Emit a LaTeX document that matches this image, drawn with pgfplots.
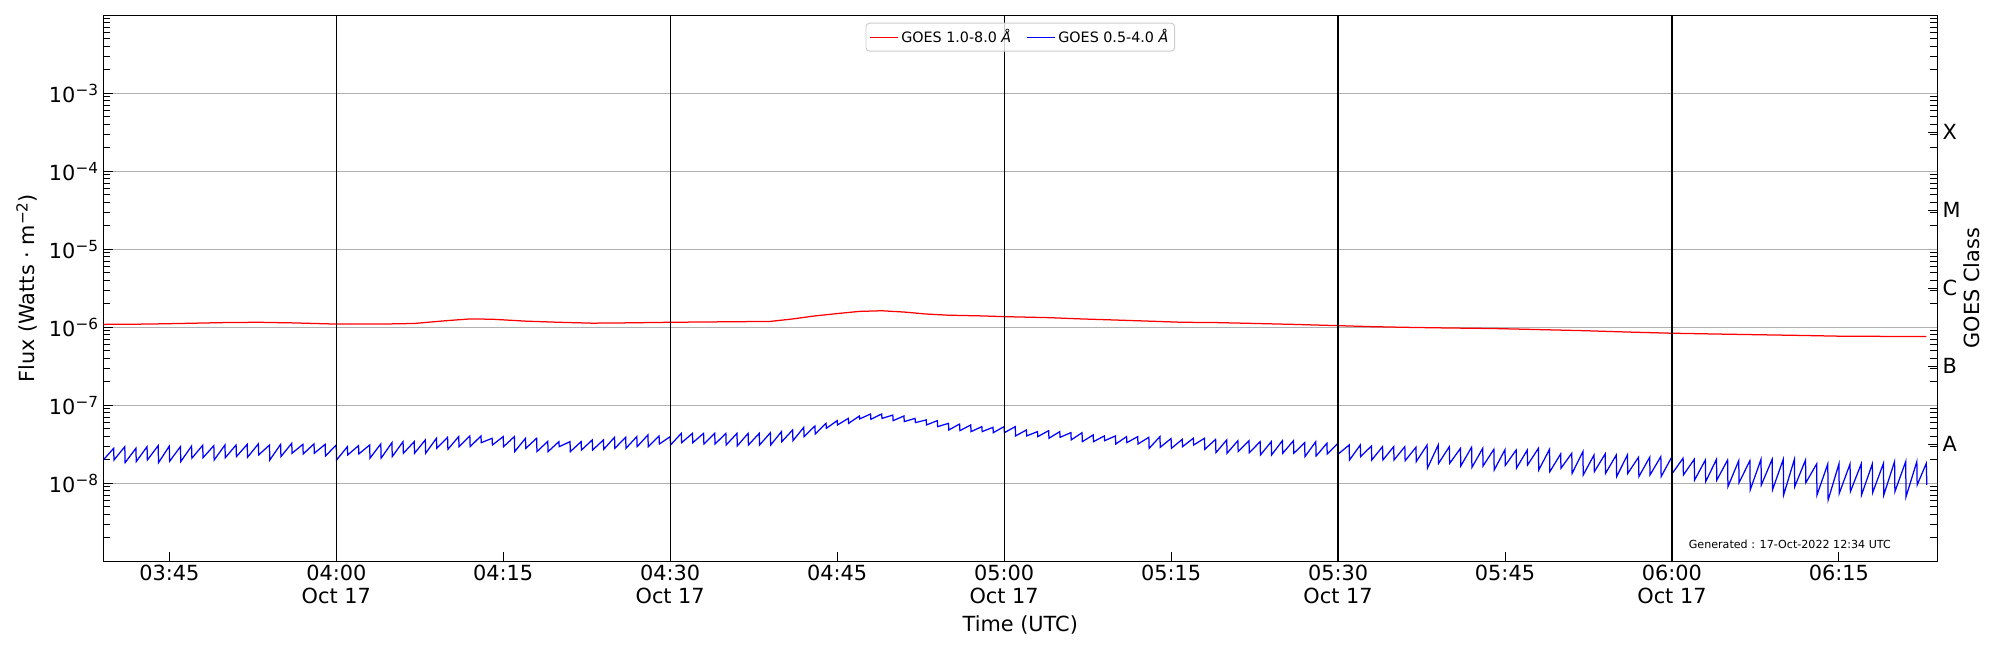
\documentclass[border=0pt]{standalone}
\usepackage{fontspec}
\setmainfont{DejaVu Sans}
\usepackage{pgfplots}
\usepackage{pgfplotstable}
\pgfplotsset{compat=1.18}
\definecolor{gridgray}{HTML}{B0B0B0}
\definecolor{legframe}{HTML}{CCCCCC}
\newcommand{\tp}[1]{10\raisebox{4.8pt}{\fontsize{11}{11}\selectfont −#1}}
\pgfplotsset{myminor/.style={minor ytick={2e-9,3e-9,4e-9,5e-9,6e-9,7e-9,8e-9,9e-9,2e-8,3e-8,4e-8,5e-8,6e-8,7e-8,8e-8,9e-8,2e-7,3e-7,4e-7,5e-7,6e-7,7e-7,8e-7,9e-7,2e-6,3e-6,4e-6,5e-6,6e-6,7e-6,8e-6,9e-6,2e-5,3e-5,4e-5,5e-5,6e-5,7e-5,8e-5,9e-5,2e-4,3e-4,4e-4,5e-4,6e-4,7e-4,8e-4,9e-4,2e-3,3e-3,4e-3,5e-3,6e-3,7e-3,8e-3,9e-3}}}
\pgfplotstableread{
t f
-20.93 1.09e-6
-17 1.10e-6
-14 1.12e-6
-10 1.15e-6
-7 1.16e-6
-4 1.14e-6
0 1.10e-6
4 1.10e-6
7 1.12e-6
10 1.22e-6
12 1.28e-6
14 1.27e-6
17 1.20e-6
20 1.16e-6
23 1.13e-6
26 1.14e-6
30 1.16e-6
33 1.17e-6
36 1.18e-6
39 1.19e-6
41 1.28e-6
43 1.40e-6
45 1.50e-6
47 1.60e-6
49 1.63e-6
51 1.57e-6
53 1.48e-6
55 1.43e-6
58 1.40e-6
60 1.37e-6
64 1.33e-6
67 1.28e-6
70 1.24e-6
73 1.20e-6
76 1.16e-6
79 1.15e-6
82 1.125e-6
86 1.09e-6
90 1.05e-6
93 1.02e-6
96 1.00e-6
100 0.98e-6
104 0.965e-6
108 0.935e-6
112 0.906e-6
116 0.87e-6
120 0.84e-6
124 0.82e-6
128.5 0.80e-6
132 0.785e-6
135 0.77e-6
139 0.765e-6
142.85 0.76e-6
}\longtab
\pgfplotstableread{
t f
-20.93 1.99e-8
-20 2.81e-8
-19.97 1.99e-8
-19 2.95e-8
-18.97 1.84e-8
-18 2.81e-8
-17.97 1.90e-8
-17 2.95e-8
-16.97 1.99e-8
-16 3.04e-8
-15.97 1.84e-8
-15 3.00e-8
-14.97 1.92e-8
-14 2.95e-8
-13.97 1.90e-8
-13 3.00e-8
-12.97 2.10e-8
-12 3.07e-8
-11.97 2.13e-8
-11 3.04e-8
-10.97 1.99e-8
-10 3.10e-8
-9.97 2.13e-8
-9 3.10e-8
-8.97 2.20e-8
-8 3.16e-8
-7.97 2.16e-8
-7 3.20e-8
-6.97 2.31e-8
-6 3.10e-8
-5.97 1.99e-8
-5 3.16e-8
-4.97 2.20e-8
-4 3.26e-8
-3.97 2.43e-8
-3 3.16e-8
-2.97 2.38e-8
-2 3.20e-8
-1.97 2.43e-8
-1 3.16e-8
-0.97 2.24e-8
0 3.10e-8
0.03 1.99e-8
1 2.95e-8
1.03 2.31e-8
2 3.04e-8
2.03 2.38e-8
3 3.10e-8
3.03 2.10e-8
4 3.20e-8
4.03 2.10e-8
5 3.32e-8
5.03 2.20e-8
6 3.42e-8
6.03 2.43e-8
7 3.42e-8
7.03 2.43e-8
8 3.60e-8
8.03 2.43e-8
9 3.78e-8
9.03 2.81e-8
10 3.89e-8
10.03 2.73e-8
11 3.97e-8
11.03 2.95e-8
12 4.05e-8
12.03 2.95e-8
13 4.05e-8
13.03 3.32e-8
14 3.78e-8
14.03 3.10e-8
15 3.97e-8
15.03 2.95e-8
16 3.97e-8
16.03 2.55e-8
17 3.78e-8
17.03 2.81e-8
18 3.78e-8
18.03 2.55e-8
19 3.45e-8
19.03 2.55e-8
20 3.42e-8
20.03 2.95e-8
21 3.42e-8
21.03 2.55e-8
22 3.42e-8
22.03 2.67e-8
23 3.60e-8
23.03 2.67e-8
24 3.60e-8
24.03 2.73e-8
25 3.89e-8
25.03 2.81e-8
26 3.89e-8
26.03 2.81e-8
27 3.97e-8
27.03 2.95e-8
28 4.17e-8
28.03 2.95e-8
29 4.05e-8
29.03 3.19e-8
30 3.97e-8
30.03 3.10e-8
31 4.37e-8
31.03 3.32e-8
32 4.37e-8
32.03 3.32e-8
33 4.37e-8
33.03 3.19e-8
34 4.37e-8
34.03 3.19e-8
35 4.37e-8
35.03 3.10e-8
36 4.37e-8
36.03 3.02e-8
37 4.37e-8
37.03 3.10e-8
38 4.37e-8
38.03 3.10e-8
39 4.45e-8
39.03 3.10e-8
40 4.60e-8
40.03 3.42e-8
41 4.83e-8
41.03 3.52e-8
42 5.22e-8
42.03 3.97e-8
43 5.43e-8
43.03 4.29e-8
44 5.87e-8
44.03 5.07e-8
45 6.36e-8
45.03 5.60e-8
46 6.80e-8
46.03 5.87e-8
47 7.30e-8
47.03 6.70e-8
48 7.74e-8
48.03 6.62e-8
49 7.74e-8
49.03 6.80e-8
50 7.50e-8
50.03 6.36e-8
51 7.30e-8
51.03 6.18e-8
52 6.80e-8
52.03 6.00e-8
53 6.50e-8
53.03 5.60e-8
54 6.36e-8
54.03 5.33e-8
55 5.87e-8
55.03 4.83e-8
56 5.75e-8
56.03 4.73e-8
57 5.60e-8
57.03 4.60e-8
58 5.33e-8
58.03 4.60e-8
59 5.22e-8
59.03 4.46e-8
60 5.33e-8
60.03 4.46e-8
61 5.33e-8
61.03 4.05e-8
62 4.83e-8
62.03 4.05e-8
63 4.60e-8
63.03 3.97e-8
64 4.73e-8
64.03 3.78e-8
65 4.60e-8
65.03 3.89e-8
66 4.46e-8
66.03 3.60e-8
67 4.46e-8
67.03 3.42e-8
68 4.17e-8
68.03 3.42e-8
69 4.05e-8
69.03 3.52e-8
70 4.05e-8
70.03 3.19e-8
71 3.97e-8
71.03 3.32e-8
72 3.97e-8
72.03 3.19e-8
73 3.89e-8
73.03 2.81e-8
74 3.97e-8
74.03 2.90e-8
75 3.75e-8
75.03 2.81e-8
76 3.66e-8
76.03 2.95e-8
77 3.78e-8
77.03 3.10e-8
78 3.78e-8
78.03 2.73e-8
79 3.66e-8
79.03 2.47e-8
80 3.60e-8
80.03 2.43e-8
81 3.52e-8
81.03 2.55e-8
82 3.52e-8
82.03 2.47e-8
83 3.42e-8
83.03 2.31e-8
84 3.42e-8
84.03 2.31e-8
85 3.52e-8
85.03 2.43e-8
86 3.52e-8
86.03 2.43e-8
87 3.32e-8
87.03 2.20e-8
88 3.42e-8
88.03 2.24e-8
89 3.26e-8
89.03 2.38e-8
90 3.26e-8
90.03 2.38e-8
91 3.10e-8
91.03 1.99e-8
92 3.10e-8
92.03 2.20e-8
93 3.01e-8
93.03 1.99e-8
94 2.95e-8
94.03 1.99e-8
95 2.95e-8
95.03 1.99e-8
96 2.95e-8
96.03 1.95e-8
97 2.90e-8
97.03 1.90e-8
98 3.10e-8
98.03 1.56e-8
99 3.10e-8
99.03 1.80e-8
100 2.95e-8
100.03 1.80e-8
101 2.81e-8
101.03 1.67e-8
102 2.90e-8
102.03 1.60e-8
103 2.81e-8
103.03 1.67e-8
104 2.73e-8
104.03 1.48e-8
105 2.70e-8
105.03 1.70e-8
106 2.67e-8
106.03 1.56e-8
107 2.67e-8
107.03 1.72e-8
108 2.81e-8
108.03 1.48e-8
109 2.73e-8
109.03 1.41e-8
110 2.38e-8
110.03 1.56e-8
111 2.43e-8
111.03 1.34e-8
112 2.55e-8
112.03 1.28e-8
113 2.31e-8
113.03 1.41e-8
114 2.38e-8
114.03 1.34e-8
115 2.31e-8
115.03 1.22e-8
116 2.31e-8
116.03 1.34e-8
117 2.16e-8
117.03 1.22e-8
118 2.16e-8
118.03 1.28e-8
119 2.20e-8
119.03 1.22e-8
120 2.20e-8
120.03 1.34e-8
121 2.10e-8
121.03 1.28e-8
122 2.03e-8
122.03 1.10e-8
123 1.99e-8
123.03 1.05e-8
124 2.03e-8
124.03 1.10e-8
125 1.99e-8
125.03 0.906e-8
126 1.95e-8
126.03 1.02e-8
127 1.95e-8
127.03 0.822e-8
128 2.03e-8
128.03 0.953e-8
129 2.03e-8
129.03 0.822e-8
130 2.03e-8
130.03 0.708e-8
131 2.03e-8
131.03 0.906e-8
132 1.99e-8
132.03 1.02e-8
133 1.77e-8
133.03 0.708e-8
134 1.77e-8
134.03 0.611e-8
135 1.77e-8
135.03 0.744e-8
136 1.77e-8
136.03 0.782e-8
137 1.77e-8
137.03 0.708e-8
138 1.77e-8
138.03 0.759e-8
139 1.80e-8
139.03 0.708e-8
140 1.90e-8
140.03 0.782e-8
141 1.90e-8
141.03 0.674e-8
142 1.90e-8
142.03 0.953e-8
142.85 1.80e-8
142.9 0.953e-8
}\shorttab
\begin{document}
\begin{tikzpicture}
\useasboundingbox (-74.38pt,-63.86pt) rectangle (1365.62pt,404.14pt);
\begin{axis}[
  at={(0,0)}, anchor=south west, scale only axis,
  width=1320.48pt, height=393.12pt,
  ymode=log, xmin=-20.93, xmax=143.84, ymin=1e-9, ymax=1e-2,
  axis line style={line width=0.8pt},
  tick align=inside, xtick pos=bottom, ytick pos=left,
  major tick length=7pt, minor tick length=5pt,
  every tick/.style={black, line width=0.7pt},
  xtick={-15,0,15,30,45,60,75,90,105,120,135},
  xticklabels={03:45,{04:00\\Oct 17},04:15,{04:30\\Oct 17},04:45,{05:00\\Oct 17},05:15,{05:30\\Oct 17},05:45,{06:00\\Oct 17},06:15},
  xticklabel style={align=center, font=\fontsize{15}{16.8}\selectfont, yshift=1pt},
  ytick={1e-8,1e-7,1e-6,1e-5,1e-4,1e-3},
  yticklabels={\tp{8},\tp{7},\tp{6},\tp{5},\tp{4},\tp{3}},
  yticklabel style={font=\fontsize{15}{16}\selectfont, inner xsep=3.6pt},
  myminor,
  ymajorgrids, major grid style={color=gridgray, line width=0.75pt},
  xlabel={Time (UTC)},
  xlabel style={at={(axis description cs:0.5,-0.1167)}, anchor=center, font=\fontsize{15}{18}\selectfont},
  ylabel={Flux (Watts · m\raisebox{4.8pt}{\fontsize{11}{11}\selectfont −2})},
  ylabel style={at={(axis description cs:-0.04177,0.5)}, anchor=center, font=\fontsize{15}{18}\selectfont},
  legend columns=2,
  legend style={at={(0.5,0.9864)}, anchor=north, draw=legframe, rounded corners=2.5pt,
    fill=white, fill opacity=0.8, text opacity=1, line width=0.7pt,
    font=\fontsize{10.3}{12}\selectfont, inner xsep=2.5pt, inner ysep=2.5pt,
    /tikz/every even column/.append style={column sep=9pt}},
  legend image code/.code={\draw[#1, line width=0.9pt] (0pt,0pt) -- (20pt,0pt);},
]
\addplot[red, line width=0.9pt] table[x=t, y=f] {\longtab};
\addlegendentry{GOES 1.0-8.0 \textit{Å}}
\addplot[blue, line width=0.9pt] table[x=t, y=f] {\shorttab};
\addlegendentry{GOES 0.5-4.0 \textit{Å}}
\addplot[black, line width=0.8pt, forget plot] coordinates {(0,1e-9) (0,1e-2)};
\addplot[black, line width=0.8pt, forget plot] coordinates {(30,1e-9) (30,1e-2)};
\addplot[black, line width=0.8pt, forget plot] coordinates {(60,1e-9) (60,1e-2)};
\addplot[black, line width=0.8pt, forget plot] coordinates {(90,1e-9) (90,1e-2)};
\addplot[black, line width=0.8pt, forget plot] coordinates {(120,1e-9) (120,1e-2)};
\node[anchor=base east, inner sep=0pt, font=\fontsize{8}{9}\selectfont] at (rel axis cs:0.9748,0.0238) {Generated : 17-Oct-2022 12:34 UTC};
\end{axis}
\begin{axis}[
  at={(0,0)}, anchor=south west, scale only axis,
  width=1320.48pt, height=393.12pt,
  ymode=log, xmin=-20.93, xmax=143.84, ymin=1e-9, ymax=1e-2,
  axis x line=none, axis y line*=right,
  axis line style={line width=0.8pt, -},
  tick align=inside,
  major tick length=7pt, minor tick length=5pt,
  every tick/.style={black, line width=0.7pt},
  ytick={3.1623e-8,3.1623e-7,3.1623e-6,3.1623e-5,3.1623e-4},
  yticklabels={A,B,C,M,X},
  yticklabel style={font=\fontsize{15}{16}\selectfont, inner xsep=3.6pt},
  myminor,
  ylabel={GOES Class},
  ylabel style={at={(axis description cs:1.01892,0.5)}, anchor=center, font=\fontsize{15}{18}\selectfont},
]
\addplot[draw=none, forget plot] coordinates {(0,1e-6)};
\end{axis}
\end{tikzpicture}
\end{document}
